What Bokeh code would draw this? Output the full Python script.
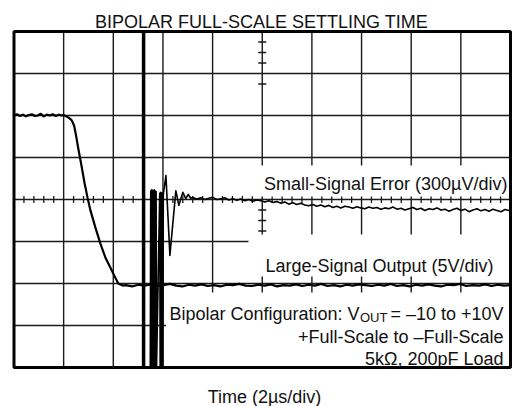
import numpy as np
from bokeh.plotting import figure
from bokeh.models import ColumnDataSource
from bokeh.core.properties import value
from bokeh.embed import file_html
from bokeh.resources import INLINE

# ---------------- data (in scope divisions) ----------------
TITLE = "BIPOLAR FULL-SCALE SETTLING TIME"
X_LABEL = "Time (2\u00b5s/div)"
N_XDIV = 10
N_YDIV = 8
TRIGGER_DIV = 2.61
# visible minor ticks on the vertical center line (divisions)
V_TICKS = [7.75, 7.5, 7.25, 6.75, 3.75, 3.5, 3.25]

# Large-signal output (5V/div)
ls_top_x = [0.00, 0.06, 0.12, 0.18, 0.24, 0.30, 0.36, 0.42, 0.48, 0.54, 0.60, 0.66, 0.72, 0.78, 0.84, 0.90, 0.96]
ls_top_y = [6.00, 6.03, 5.99, 6.02, 5.98, 6.01, 6.03, 5.99, 6.00, 6.04, 5.98, 6.02, 6.00, 6.03, 5.99, 6.02, 6.00]
ls_fall_x = [1.00, 1.04, 1.10, 1.16, 1.21, 1.25, 1.30, 1.36, 1.42, 1.48, 1.54, 1.64, 1.74, 1.84, 1.94, 2.04, 2.10, 2.19]
ls_fall_y = [6.01, 5.99, 5.95, 5.89, 5.76, 5.52, 5.18, 4.80, 4.40, 4.05, 3.74, 3.33, 2.95, 2.62, 2.38, 2.14, 2.00, 1.95]
ls_bot_y = [
    1.96, 1.93, 1.97, 1.95, 1.98, 1.94, 1.96, 1.99, 1.95, 1.93,
    1.97, 1.95, 1.98, 1.94, 1.96, 1.93, 1.97, 1.96, 1.99, 1.95,
    1.94, 1.97, 1.95, 1.98, 1.93, 1.96, 1.95, 1.98, 1.94, 1.97,
    1.95, 1.99, 1.94, 1.96, 1.93, 1.97, 1.95, 1.98, 1.96, 1.94,
    1.97, 1.95, 1.99, 1.94, 1.96, 1.93, 1.97, 1.95, 1.98, 1.95,
    1.93, 1.97, 1.96, 1.99, 1.94, 1.96, 1.95, 1.98, 1.94, 1.97,
    1.95, 1.96]
LS_BOT_START, LS_BOT_END = 2.25, 10.0

# Small-signal error (300uV/div): saturated spikes, ringing, settled part
spike_x = [2.745, 2.754, 2.763, 2.772, 2.781, 2.790, 2.799, 2.808, 2.817, 2.826, 2.835,
           2.844, 2.853, 2.862, 2.871,
           2.935, 2.944, 2.953, 2.962, 2.971, 2.980, 2.989, 2.998, 3.007]
spike_y = [0.02, 4.20, 0.02, 4.23, 0.02, 4.22, 0.02, 4.21, 0.02, 4.23, 0.02,
           4.20, 0.02, 4.19, 0.02,
           4.15, 0.02, 4.17, 0.02, 4.16, 0.02, 4.14, 0.02, 4.12]
ring_x = [3.06, 3.14, 3.26, 3.32, 3.40, 3.46, 3.51, 3.56]
ring_y = [4.57, 2.67, 4.21, 3.86, 4.17, 4.02, 4.12, 4.03]
ss_y = [
    4.05, 4.01, 4.04, 4.00, 4.03, 4.05, 4.00, 4.02, 4.04, 3.99,
    4.02, 3.98, 4.01, 3.97, 4.00, 3.96, 3.99, 3.97, 3.94, 3.97,
    3.93, 3.95, 3.91, 3.94, 3.89, 3.92, 3.88, 3.91, 3.87, 3.85,
    3.88, 3.84, 3.87, 3.83, 3.86, 3.81, 3.84, 3.80, 3.84, 3.82,
    3.79, 3.83, 3.80, 3.78, 3.82, 3.79, 3.81, 3.77, 3.80, 3.78,
    3.82, 3.77, 3.79, 3.75, 3.78, 3.81, 3.76, 3.79, 3.74, 3.78,
    3.76, 3.80, 3.75, 3.77, 3.72, 3.76, 3.79, 3.74, 3.77, 3.71,
    3.75, 3.78, 3.73, 3.76, 3.72, 3.77, 3.74, 3.71, 3.76, 3.74]
SS_START, SS_END = 3.60, 9.97

# ---------------- layout helpers (page pixel -> division) ----------------
W, H = 517, 406
PX_PER_XDIV = 49.65
PX_PER_YDIV = 42.0
FRAME_LEFT_PX, FRAME_TOP_PX = 13.5, 31.0


def X(px):
    return (px - FRAME_LEFT_PX) / PX_PER_XDIV


def Y(py):
    return N_YDIV - (py - FRAME_TOP_PX) / PX_PER_YDIV


FONT = value("Liberation Sans")
INK = "#111111"

p = figure(width=W, height=H, x_range=(X(0), X(W)), y_range=(Y(H), Y(0)),
           x_axis_type=None, y_axis_type=None, output_backend="svg",
           toolbar_location=None, min_border=0)
p.grid.visible = False
p.outline_line_color = None
p.background_fill_color = "white"
p.border_fill_color = "white"

# graticule
vx = list(range(1, N_XDIV))
hy = list(range(1, N_YDIV))
p.segment(x0=vx, y0=[0] * len(vx), x1=vx, y1=[N_YDIV] * len(vx), line_color="#1a1a1a", line_width=1.4)
p.segment(x0=[0] * len(hy), y0=hy, x1=[N_XDIV] * len(hy), y1=hy, line_color="#1a1a1a", line_width=1.4)

# center-line minor ticks
cx, cy = N_XDIV / 2, N_YDIV / 2
htx = [i / 5 for i in range(1, N_XDIV * 5) if i % 5]
hl = 3.5 / PX_PER_YDIV
p.segment(x0=htx, y0=[cy - hl] * len(htx), x1=htx, y1=[cy + hl] * len(htx), line_color="#1a1a1a", line_width=1.3)
vl = 4.0 / PX_PER_XDIV
p.segment(x0=[cx - vl] * len(V_TICKS), y0=V_TICKS, x1=[cx + vl] * len(V_TICKS), y1=V_TICKS,
          line_color="#1a1a1a", line_width=1.3)

# trigger marker
p.segment(x0=[TRIGGER_DIV], y0=[0], x1=[TRIGGER_DIV], y1=[N_YDIV], line_color="black", line_width=3.5)

# white label boxes
boxes = dict(left=[X(252), X(248), X(165.5)], right=[X(509)] * 3,
             top=[Y(165), Y(234), Y(292)], bottom=[Y(196), Y(276), Y(365.5)])
p.quad(source=ColumnDataSource(boxes), left="left", right="right", top="top", bottom="bottom",
       fill_color="white", line_color=None)

# traces
ls_x = ls_top_x + ls_fall_x + list(np.linspace(LS_BOT_START, LS_BOT_END, len(ls_bot_y)))
ls_y = ls_top_y + ls_fall_y + ls_bot_y
p.line(ls_x, ls_y, line_color="black", line_width=2.2, line_join="round")

ss_x = spike_x + ring_x + list(np.linspace(SS_START, SS_END, len(ss_y)))
ss_yy = spike_y + ring_y + ss_y
p.line(ss_x, ss_yy, line_color="black", line_width=1.6, line_join="round")

# frame
p.quad(left=[0], right=[N_XDIV], bottom=[0], top=[N_YDIV], fill_color=None,
       line_color="black", line_width=3)

# texts
p.text(x=[X(261)], y=[Y(21)], text=[TITLE], text_align="center", text_baseline="alphabetic",
       text_font=FONT, text_font_size="18px", text_color=INK)
p.text(x=[X(264)], y=[Y(396)], text=[X_LABEL], text_align="center", text_baseline="alphabetic",
       text_font=FONT, text_font_size="18px", text_color=INK)

right_labels = ["Small-Signal Error (300\u00b5V/div)", "Large-Signal Output (5V/div)",
                "= \u201310 to +10V", "+Full-Scale to \u2013Full-Scale", "5k\u03a9, 200pF Load"]
p.text(x=[X(507), X(493), X(503), X(503), X(503)],
       y=[Y(183), Y(265), Y(313), Y(336), Y(358)],
       text=right_labels, text_align="right", text_baseline="alphabetic",
       text_font=FONT, text_font_size="18px", text_color=INK)
p.text(x=[X(359)], y=[Y(313)], text=["Bipolar Configuration: V"], text_align="right",
       text_baseline="alphabetic", text_font=FONT, text_font_size="18px", text_color=INK)
p.text(x=[X(359.5)], y=[Y(317)], text=["OUT"], text_align="left",
       text_baseline="alphabetic", text_font=FONT, text_font_size="13px", text_color=INK)

open("out.html", "w").write(file_html(p, INLINE))
